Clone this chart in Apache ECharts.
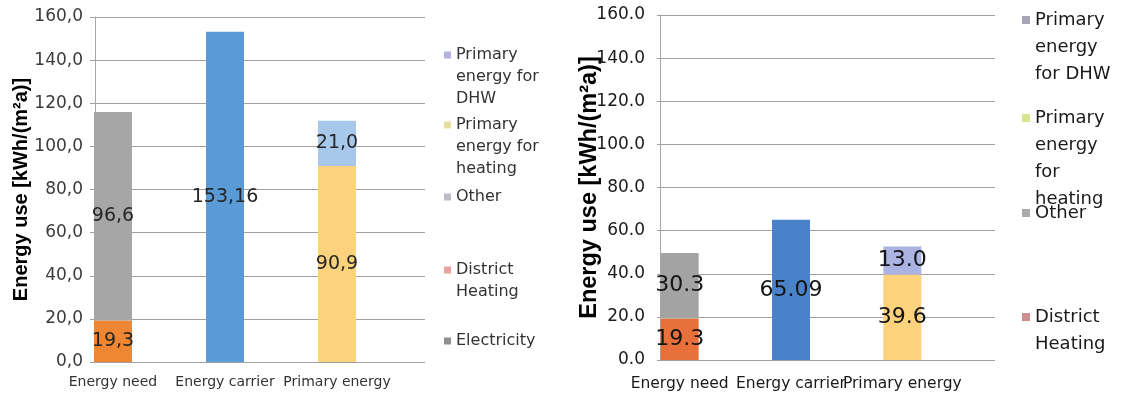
<!DOCTYPE html>
<html>
<head>
<meta charset="utf-8">
<script src="https://cdn.jsdelivr.net/npm/echarts@6/dist/echarts.min.js"></script>
<style>
  html, body { margin: 0; padding: 0; background: #fff; overflow: hidden; }
  #left  { position: absolute; left: 0;     top: 0; width: 565px; height: 401px; }
  #right { position: absolute; left: 565px; top: 0; width: 564px; height: 401px; }
</style>
</head>
<body>
<div id="left"></div>
<div id="right"></div>
<script>
// Categories and series, bottom of the stack first
const categories = ['Energy need', 'Energy carrier', 'Primary energy'];
const seriesNames = ['Electricity', 'District Heating', 'Other', 'Primary energy for heating', 'Primary energy for DHW'];
const yTicks = [0, 20, 40, 60, 80, 100, 120, 140, 160];

// Left case, kWh/(m²a)
const leftElectricity     = [null, 153.16, null];
const leftDistrictHeating = [19.3, null, null];
const leftOther           = [96.6, null, null];
const leftHeatingPE       = [null, null, 90.9];
const leftDhwPE           = [null, null, 21.0];

// Right case, kWh/(m²a)
const rightElectricity     = [null, 65.09, null];
const rightDistrictHeating = [19.3, null, null];
const rightOther           = [30.3, null, null];
const rightHeatingPE       = [null, null, 39.6];
const rightDhwPE           = [null, null, 13.0];

// Legend wording, same order as seriesNames
const leftLegendText  = ['Electricity', 'District\nHeating', 'Other', 'Primary\nenergy for\nheating', 'Primary\nenergy for\nDHW'];
const rightLegendText = [null, 'District\nHeating', 'Other', 'Primary\nenergy\nfor\nheating', 'Primary\nenergy\nfor DHW'];

const yTitle = 'Energy use [kWh/(m²a)]';

function buildOption(cfg) {
  const fmt = (v, dec) => {
    const s = Number(v).toFixed(dec);
    return cfg.comma ? s.replace('.', ',') : s;
  };
  const series = seriesNames.map((name, i) => ({
    name: name,
    type: 'bar',
    stack: 'total',
    xAxisIndex: 1,
    yAxisIndex: 1,
    barWidth: cfg.barWidth,
    data: cfg.values[i],
    itemStyle: { color: cfg.barColors[i] },
    label: {
      show: true,
      position: 'inside',
      color: cfg.labelColor,
      fontFamily: 'DejaVu Sans',
      fontSize: cfg.labelSize,
      formatter: p => fmt(p.value, name === 'Electricity' ? 2 : 1)
    }
  }));

  // One legend per entry; the marker sits beside the first line of a wrapped
  // entry, so blank lines are put ahead of the text to centre that line on it.
  const legends = [];
  seriesNames.forEach((name, i) => {
    const text = cfg.legendText[i];
    if (!text) return;
    const n = text.split('\n').length;
    const lh = cfg.legend.lineHeight;
    const shown = '\n'.repeat(n - 1) + text;
    legends.push({
      data: [{ name: name, itemStyle: { color: cfg.legend.markerColors[i] } }],
      left: cfg.legend.left,
      top: cfg.legend.firstLineY[i] - (2 * n - 1) * lh / 2,
      padding: 0,
      itemWidth: cfg.legend.marker,
      itemHeight: cfg.legend.marker,
      icon: 'rect',
      selectedMode: false,
      formatter: () => shown,
      textStyle: {
        fontFamily: 'DejaVu Sans',
        fontSize: cfg.legend.fontSize,
        lineHeight: lh,
        color: cfg.legend.color
      }
    });
  });

  return {
    animation: false,
    backgroundColor: '#ffffff',
    grid: [
      { left: cfg.frame.left, top: cfg.frame.top, width: cfg.frame.width, height: cfg.frame.height, outerBoundsMode: 'none', containLabel: false },
      { left: cfg.bars.left,  top: cfg.frame.top, width: cfg.bars.width,  height: cfg.frame.height, outerBoundsMode: 'none', containLabel: false }
    ],
    xAxis: [
      { type: 'category', gridIndex: 0, data: [''], show: false },
      {
        type: 'category', gridIndex: 1, data: categories,
        axisLine: { show: false }, axisTick: { show: false },
        axisLabel: {
          interval: 0, margin: cfg.xLabel.margin, color: cfg.xLabel.color,
          fontFamily: 'DejaVu Sans', fontSize: cfg.xLabel.fontSize, hideOverlap: false
        }
      }
    ],
    yAxis: [
      {
        type: 'value', gridIndex: 0, min: yTicks[0], max: yTicks[yTicks.length - 1], interval: 20,
        axisLine: { show: true, lineStyle: { color: '#a8a8a8', width: 1 } },
        axisTick: { show: true, length: cfg.tickLength, lineStyle: { color: '#a0a0a0' } },
        splitLine: { show: true, lineStyle: { color: '#a0a0a0', width: 1 } },
        axisLabel: {
          margin: cfg.yLabel.margin, color: cfg.yLabel.color,
          fontFamily: 'DejaVu Sans', fontSize: cfg.yLabel.fontSize,
          formatter: v => fmt(v, 1)
        },
        name: yTitle,
        nameLocation: 'middle',
        nameRotate: 90,
        nameGap: cfg.title.gap,
        nameMoveOverlap: false,
        nameTextStyle: {
          fontFamily: 'Liberation Sans', fontWeight: 'bold',
          fontSize: cfg.title.fontSize, color: '#000000'
        }
      },
      {
        type: 'value', gridIndex: 1, min: yTicks[0], max: yTicks[yTicks.length - 1], interval: 20,
        show: false, splitLine: { show: false }
      }
    ],
    legend: legends,
    series: series
  };
}

const leftChart = echarts.init(document.getElementById('left'), null, { renderer: 'canvas' });
leftChart.setOption(buildOption({
  comma: true,
  values: [leftElectricity, leftDistrictHeating, leftOther, leftHeatingPE, leftDhwPE],
  barColors: ['#5a9ad6', '#ef8631', '#a6a6a6', '#fdd27f', '#a8c8eb'],
  barWidth: 38,
  labelColor: '#262626',
  labelSize: 19,
  frame: { left: 95, top: 17, width: 330, height: 345 },
  bars: { left: 57, width: 336 },
  tickLength: 5,
  xLabel: { margin: 13, color: '#333333', fontSize: 14 },
  yLabel: { margin: 12, color: '#3a3a3a', fontSize: 17 },
  title: { gap: 64, fontSize: 20 },
  legendText: leftLegendText,
  legend: {
    left: 444, marker: 7, fontSize: 16, lineHeight: 22, color: '#333333',
    firstLineY: [341, 270, 197, 125, 55],
    markerColors: ['#8e8e8e', '#eaa3a3', '#bdbdc5', '#e6dfa0', '#b3b3dd']
  }
}));

const rightChart = echarts.init(document.getElementById('right'), null, { renderer: 'canvas' });
rightChart.setOption(buildOption({
  comma: false,
  values: [rightElectricity, rightDistrictHeating, rightOther, rightHeatingPE, rightDhwPE],
  barColors: ['#4a82c9', '#e8703a', '#a3a3a3', '#fcd27d', '#aab3e2'],
  barWidth: 38,
  labelColor: '#141414',
  labelSize: 22,
  frame: { left: 95, top: 15, width: 335, height: 345 },
  bars: { left: 59, width: 334 },
  tickLength: 3,
  xLabel: { margin: 16, color: '#1a1a1a', fontSize: 15.5 },
  yLabel: { margin: 15, color: '#1a1a1a', fontSize: 17 },
  title: { gap: 58, fontSize: 23.5 },
  legendText: rightLegendText,
  legend: {
    left: 457, marker: 8, fontSize: 18, lineHeight: 27, color: '#1a1a1a',
    firstLineY: [null, 317, 213, 118, 20],
    markerColors: ['#8e8e8e', '#cc8e8e', '#ababab', '#d5e68e', '#a5a5b5']
  }
}));
</script>
</body>
</html>
